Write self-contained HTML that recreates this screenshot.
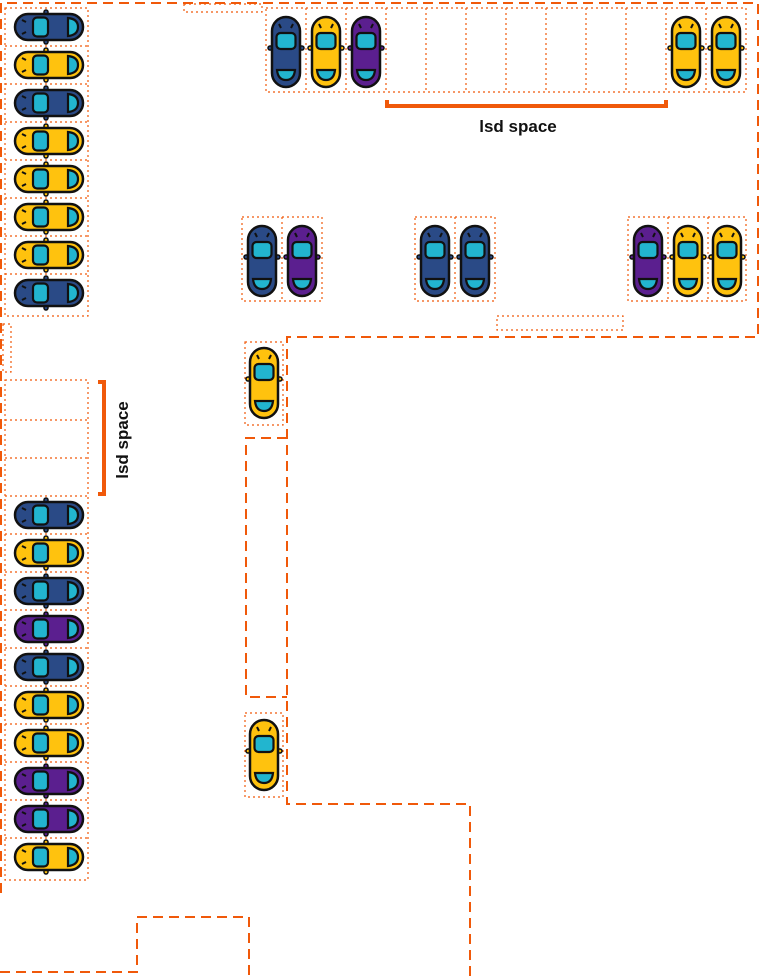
<!DOCTYPE html>
<html><head><meta charset="utf-8"><style>
html,body{margin:0;padding:0;background:#fff;}
svg{display:block;}
</style></head><body>
<svg width="760" height="980" viewBox="0 0 760 980" xmlns="http://www.w3.org/2000/svg">
<defs>
<symbol id="ch" viewBox="0 0 70 30" overflow="visible">
  <rect x="30" y="-2" width="4" height="34" rx="2" fill="currentColor" stroke="#111" stroke-width="1.5"/>
  <rect x="1" y="2" width="68" height="26" rx="13" fill="currentColor" stroke="#111" stroke-width="2.5"/>
  <path d="M8 8 L12 10 M8 22 L12 20" stroke="#111" stroke-width="2"/>
  <rect x="19" y="5.5" width="15" height="19" rx="4" fill="#22b5cf" stroke="#111" stroke-width="2.2"/>
  <path d="M54 6 Q64 7 64 15 Q64 23 54 24 Z" fill="#22b5cf" stroke="#111" stroke-width="2.2"/>
</symbol>
<symbol id="cv" viewBox="0 0 40 72" overflow="visible">
  <rect x="2" y="30" width="36" height="4" rx="2" fill="currentColor" stroke="#111" stroke-width="1.5"/>
  <rect x="6" y="1" width="28" height="70" rx="14" fill="currentColor" stroke="#111" stroke-width="2.5"/>
  <path d="M13 8 L15 12 M27 8 L25 12" stroke="#111" stroke-width="2"/>
  <rect x="10.5" y="17" width="19" height="16" rx="4" fill="#22b5cf" stroke="#111" stroke-width="2.2"/>
  <path d="M11 54 Q12 64 20 64 Q28 64 29 54 Z" fill="#22b5cf" stroke="#111" stroke-width="2.2"/>
</symbol>
</defs>

<g fill="none" stroke="#f0590a" stroke-width="1.2" stroke-dasharray="2,3">
  <rect x="5" y="8" width="83" height="308"/>
  <path d="M5 46H88M5 84H88M5 122H88M5 160H88M5 198H88M5 236H88M5 274H88"/>
  <rect x="3" y="324" width="8" height="48"/>
  <rect x="5" y="380" width="83" height="500"/>
  <path d="M5 420H88M5 458H88M5 496H88M5 534H88M5 572H88M5 610H88M5 648H88M5 686H88M5 724H88M5 762H88M5 800H88M5 838H88"/>
  <rect x="184" y="4" width="78" height="8"/>
  <rect x="266" y="8" width="480" height="84"/>
  <path d="M306 8V92M346 8V92M386 8V92M426 8V92M466 8V92M506 8V92M546 8V92M586 8V92M626 8V92M666 8V92M706 8V92"/>
  <rect x="242" y="217" width="80" height="84"/><path d="M282 217V301"/>
  <rect x="415" y="217" width="80" height="84"/><path d="M455 217V301"/>
  <rect x="628" y="217" width="118" height="84"/><path d="M668 217V301M708 217V301"/>
  <rect x="497" y="316" width="126" height="14"/>
  <rect x="245" y="342" width="38" height="83"/>
  <rect x="245" y="713" width="38" height="84"/>
</g>

<g fill="none" stroke="#f0590a" stroke-width="2" stroke-dasharray="10,6">
  <path d="M1 893V3H758V337H287V804H470V980"/>
  <path d="M0 972H137V917H249V980"/>
  <path d="M287 438H246V697H287"/>
</g>

<g fill="none" stroke="#f0590a" stroke-width="4">
  <path d="M387 100V106H666V100"/>
  <path d="M98 382H104V494H98"/>
</g>
<text x="518" y="132" font-family="'Liberation Sans',sans-serif" font-weight="bold" font-size="17" text-anchor="middle" fill="#111">lsd space</text>
<text transform="translate(128,440) rotate(-90)" font-family="'Liberation Sans',sans-serif" font-weight="bold" font-size="17" text-anchor="middle" fill="#111">lsd space</text>

<g>
<use href="#ch" x="14" y="12" width="70" height="30" color="#2a4a86"/>
<use href="#ch" x="14" y="50" width="70" height="30" color="#ffc20e"/>
<use href="#ch" x="14" y="88" width="70" height="30" color="#2a4a86"/>
<use href="#ch" x="14" y="126" width="70" height="30" color="#ffc20e"/>
<use href="#ch" x="14" y="164" width="70" height="30" color="#ffc20e"/>
<use href="#ch" x="14" y="202" width="70" height="30" color="#ffc20e"/>
<use href="#ch" x="14" y="240" width="70" height="30" color="#ffc20e"/>
<use href="#ch" x="14" y="278" width="70" height="30" color="#2a4a86"/>

<use href="#ch" x="14" y="500" width="70" height="30" color="#2a4a86"/>
<use href="#ch" x="14" y="538" width="70" height="30" color="#ffc20e"/>
<use href="#ch" x="14" y="576" width="70" height="30" color="#2a4a86"/>
<use href="#ch" x="14" y="614" width="70" height="30" color="#5b1f8f"/>
<use href="#ch" x="14" y="652" width="70" height="30" color="#2a4a86"/>
<use href="#ch" x="14" y="690" width="70" height="30" color="#ffc20e"/>
<use href="#ch" x="14" y="728" width="70" height="30" color="#ffc20e"/>
<use href="#ch" x="14" y="766" width="70" height="30" color="#5b1f8f"/>
<use href="#ch" x="14" y="804" width="70" height="30" color="#5b1f8f"/>
<use href="#ch" x="14" y="842" width="70" height="30" color="#ffc20e"/>
</g>

<g>
<use href="#cv" x="266" y="16" width="40" height="72" color="#2a4a86"/>
<use href="#cv" x="306" y="16" width="40" height="72" color="#ffc20e"/>
<use href="#cv" x="346" y="16" width="40" height="72" color="#5b1f8f"/>
<use href="#cv" x="666" y="16" width="40" height="72" color="#ffc20e"/>
<use href="#cv" x="706" y="16" width="40" height="72" color="#ffc20e"/>

<use href="#cv" x="242" y="225" width="40" height="72" color="#2a4a86"/>
<use href="#cv" x="282" y="225" width="40" height="72" color="#5b1f8f"/>
<use href="#cv" x="415" y="225" width="40" height="72" color="#2a4a86"/>
<use href="#cv" x="455" y="225" width="40" height="72" color="#2a4a86"/>
<use href="#cv" x="628" y="225" width="40" height="72" color="#5b1f8f"/>
<use href="#cv" x="668" y="225" width="40" height="72" color="#ffc20e"/>
<use href="#cv" x="707" y="225" width="40" height="72" color="#ffc20e"/>

<use href="#cv" x="244" y="347" width="40" height="72" color="#ffc20e"/>
<use href="#cv" x="244" y="719" width="40" height="72" color="#ffc20e"/>
</g>
</svg>
</body></html>
